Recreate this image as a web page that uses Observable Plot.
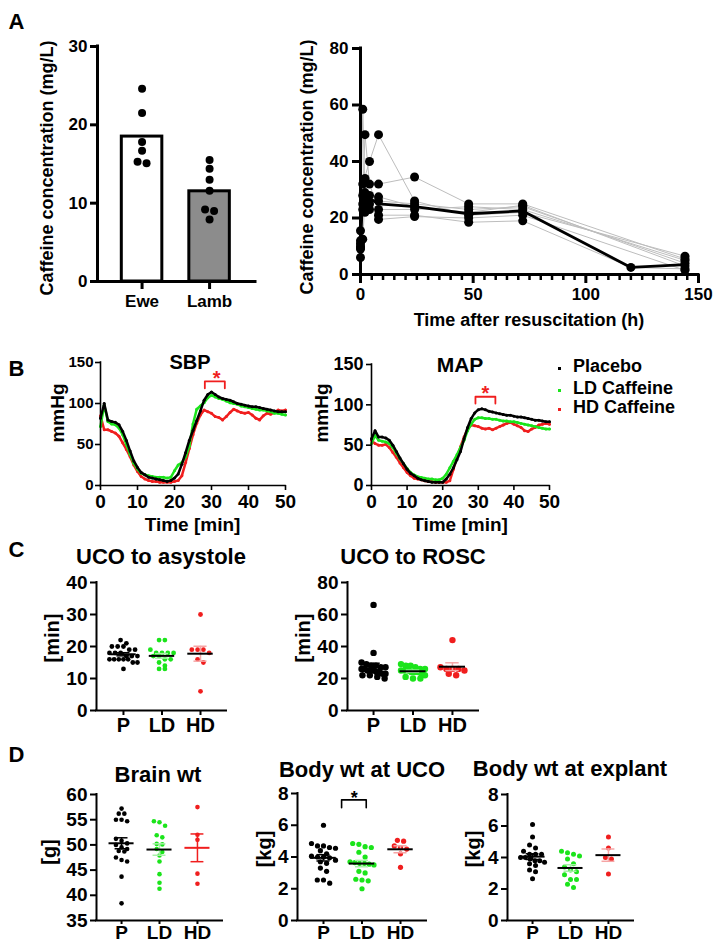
<!DOCTYPE html>
<html><head><meta charset="utf-8">
<script src="https://cdn.jsdelivr.net/npm/d3@7"></script>
<script src="https://cdn.jsdelivr.net/npm/@observablehq/plot@0.6"></script>
<style>
body{margin:0;background:#fff}
#root{position:relative;width:714px;height:943px;overflow:hidden;background:#fff;font-family:"Liberation Sans",Arial,sans-serif;font-weight:bold;color:#000}
.t{position:absolute;white-space:nowrap;line-height:1}
.mk{position:absolute;width:3px;height:3px}
</style></head>
<body><div id="root"></div>
<script>
// ---------- DATA ----------
// Panel A left: caffeine concentration (mg/L)
const aGroups = ["Ewe", "Lamb"];
const ewe = [24.6, 21.5, 17.8, 16.7, 15.1, 15.3];
const lamb = [15.5, 14.4, 13.0, 11.6, 9.2, 9.0, 7.9];
// Panel A right: concentration vs time after resuscitation (h)
const pkTimes = [0, 1, 2, 4, 8, 24, 48, 72, 120, 144];
const pkS1 = [10, 58.5, 29, 28, 26, 25, 23, 24, null, 4];
const pkS2 = [9, null, 49.5, 32, 23, 23, 24, 23, null, 5];
const pkS3 = [12, 32, null, 40, 49.5, 26, 21, 22, null, 6.5];
const pkS4 = [15.5, 28, 34, null, 32, 34.5, 25, 25, null, 5.5];
const pkS5 = [6, 25, 24, 23, 21, 21, 18.5, 19, 2.5, 2];
const pkS6 = [9.5, 23, 22, 25, 19.5, 20.5, 20, 21, null, 1.5];
const pkS7 = [11, 12.5, 27, null, 27.5, 24, 22, 24.5, null, 3];
const pkMean = [10, 29, 28.5, 27, 25, 24, 21.5, 22.5, 2.5, 3.5];
// Panel B: blood pressure (mmHg) each minute 0..50
const sbpP  = [82,100,80,78,77,74,66,55,42,30,22,16,13,10,9,8,7,6,5,6,9,14,26,40,55,67,79,91,104,111,114,111,108,106,105,104,102,100,99,98,97,96,96,95,94,93,92,91,90,90,90];
const sbpLD = [72,98,78,75,74,70,62,50,38,27,20,15,13,12,11,10,10,10,9,10,18,25,28,35,48,75,93,97,101,107,110,108,106,105,103,101,100,99,97,96,95,94,93,92,92,91,90,88,88,87,86];
const sbpHD = [85,68,68,66,64,60,52,44,35,25,17,11,8,6,5,5,4,4,4,4,5,6,12,28,45,62,76,86,92,90,88,84,83,80,84,89,93,91,89,88,89,86,82,80,85,88,87,89,92,91,92];
const mapP  = [58,68,60,60,59,56,50,42,34,27,20,15,12,9,7,6,5,4,4,4,4,8,14,22,32,42,58,72,83,90,94,95,94,92,91,90,89,88,87,87,86,85,85,84,83,82,81,81,80,79,79];
const mapLD = [52,62,56,55,54,52,47,40,33,27,21,16,13,11,10,9,8,8,7,7,9,14,22,30,38,47,56,68,76,82,84,84,83,83,82,82,81,80,80,79,79,78,77,76,75,74,73,72,71,70,70];
const mapHD = [56,52,50,50,51,47,41,35,28,22,16,12,9,8,7,6,5,5,4,4,4,4,6,20,35,48,60,70,75,74,73,71,70,71,69,71,73,75,77,78,76,74,72,68,67,70,72,75,76,77,76];
const sbpSig = {from: 28.2, to: 33.6, top: 127, end: 118.5, x: 31.4};
const mapSig = {from: 29.2, to: 34.8, top: 110, end: 101.5, x: 32};
const seriesNames = ["Placebo", "LD Caffeine", "HD Caffeine"];
// Panel C (min)
const grpNames = ["P", "LD", "HD"];
const asyP  = [22,21,20,20,20,19,19,18,18,18,17,17,17,16,16,16,16,16,15,15,13];
const asyLD = [22,22,19,18,18,18,18,17,17,16,16,15,14,13,13];
const asyHD = [30,19,19,19,18,16,15,6];
const roscP  = [66,36,30,29,28,28,27,27,26,26,25,25,25,24,24,23,23,22,22,21,20];
const roscLD = [29,28,28,27,26,26,25,25,25,24,24,24,23,22,21,20,20];
const roscHD = [44,27,26,26,26,25,23,22];
// Panel D
const brainP  = [57.2,56.2,56.2,55,55,54.7,51.2,50.8,50.3,50,49.5,49.2,48.8,48.7,47.5,47,46.7,43.7,38.4];
const brainLD = [54.7,54.5,53.8,51.9,51.5,50.2,50.1,49.2,48.6,47.9,46.7,44.2,42.5,41.3];
const brainHD = [57.5,52,51,44.3,42.3];
const ucoP  = [6.0,4.85,4.7,4.7,4.6,4.55,4.4,4.2,4.05,4.0,4.0,3.95,3.8,3.7,3.6,3.3,3.1,2.55,2.55,2.35];
const ucoLD = [4.85,4.8,4.65,4.6,4.3,4.0,3.7,3.65,3.6,3.6,3.55,3.5,3.1,3.0,2.6,2.55,2.5,2.0];
const ucoHD = [5.05,5.0,4.7,4.6,4.5,4.2,3.35];
const ucoSig = {from: 1.47, to: 2.11, top: 7.6, end: 7.1, x: 1.8};
const expP  = [6.1,5.3,4.8,4.6,4.4,4.2,4.2,4.2,4.0,4.0,3.9,3.8,3.8,3.7,3.6,3.5,3.2,3.1,2.65];
const expLD = [4.4,4.3,4.2,4.1,3.9,3.6,3.4,3.2,3.1,2.9,2.6,2.6,2.3,2.1];
const expHD = [5.3,4.6,4.0,3.9,2.95];

// ---------- STYLE ----------
const FONT = '"Liberation Sans", Arial, sans-serif';
const GREEN = "#1be41b", RED = "#f01e1e", LGREEN = "#a8f0a8", LRED = "#f6a5a5";
const grpColors = ["#000", GREEN, RED];
const root = document.getElementById("root");

function text(str, cx, cy, size, opt = {}) {
  const d = document.createElement("div");
  d.className = "t"; d.textContent = str;
  d.style.left = cx + "px"; d.style.top = cy + "px"; d.style.fontSize = size + "px";
  if (opt.color) d.style.color = opt.color;
  d.style.transform = (opt.left ? "translate(0,-50%)" : "translate(-50%,-50%)") + (opt.rot ? " rotate(-90deg)" : "");
  root.appendChild(d);
}

function plotAt(f, marks) {
  const m = {l: 70, r: 25, t: 25, b: 50};
  const svg = Plot.plot({
    width: f.x1 - f.x0 + m.l + m.r,
    height: f.y1 - f.y0 + m.t + m.b,
    marginLeft: m.l, marginRight: m.r, marginTop: m.t, marginBottom: m.b,
    style: {background: "transparent", overflow: "visible", fontFamily: FONT, fontWeight: "bold", color: "#000"},
    x: {domain: f.xdom}, y: {domain: f.ydom},
    marks
  });
  svg.style.position = "absolute";
  svg.style.left = (f.x0 - m.l) + "px";
  svg.style.top = (f.y0 - m.t) + "px";
  root.appendChild(svg);
}

function axes(f, a) {
  return [
    Plot.ruleX([f.xdom[0]], {y1: f.ydom[0], y2: f.ydom[1], strokeWidth: a.sw, strokeLinecap: "square"}),
    Plot.ruleY([f.ydom[0]], {x1: f.xdom[0], x2: f.xdom[1], strokeWidth: a.sw, strokeLinecap: "square"}),
    Plot.axisY({ticks: a.yTicks, tickSize: a.yTickSize, tickPadding: a.yPad, strokeWidth: a.sw, fontSize: a.yFont, fontWeight: "bold", label: null}),
    Plot.axisX({ticks: a.xTicks, tickSize: a.xTickSize, tickPadding: a.xPad, strokeWidth: a.sw, fontSize: a.xFont, fontWeight: "bold", label: null, tickFormat: a.xFmt})
  ];
}

// group values into rows of near-equal values and spread them sideways
function swarm(values, r, pxY, maxHalf) {
  const sorted = values.slice().sort((a, b) => b - a);
  const rows = [];
  for (const v of sorted) {
    const row = rows[rows.length - 1];
    if (row && (row[0] - v) * pxY < 2 * r) row.push(v); else rows.push([v]);
  }
  const out = [];
  for (const row of rows) {
    const n = row.length;
    let step = 2 * r + 1;
    if (n > 1 && (n - 1) * step / 2 > maxHalf) step = 2 * maxHalf / (n - 1);
    row.forEach((v, k) => out.push({v, dx: (k - (n - 1) / 2) * step}));
  }
  return out;
}

function groupMarks(f, groups, o) {
  const pxY = (f.y1 - f.y0) / (f.ydom[1] - f.ydom[0]);
  const pxX = (f.x1 - f.x0) / (f.xdom[1] - f.xdom[0]);
  const marks = [];
  const over = [];
  groups.forEach((vals, gi) => {
    const g = gi + 1;
    const pts = swarm(vals, o.r, pxY, o.maxHalf).map(p => ({x: g + p.dx / pxX, y: p.v}));
    marks.push(Plot.dot(pts, {x: "x", y: "y", r: o.r, fill: (o.colors || grpColors)[gi], stroke: null}));
    const mean = d3.mean(vals), sem = d3.deviation(vals) / Math.sqrt(vals.length);
    const st = [{g, mean, lo: mean - sem, hi: mean + sem}];
    const ec = o.errColors[gi], mc = o.meanColors[gi];
    over.push(
      Plot.ruleX(st, {x: "g", y1: "lo", y2: "hi", stroke: ec, strokeWidth: 1.5}),
      Plot.ruleY(st, {y: "lo", x1: d => d.g - 0.17, x2: d => d.g + 0.17, stroke: ec, strokeWidth: 1.5}),
      Plot.ruleY(st, {y: "hi", x1: d => d.g - 0.17, x2: d => d.g + 0.17, stroke: ec, strokeWidth: 1.5}),
      Plot.ruleY(st, {y: "mean", x1: d => d.g - 0.33, x2: d => d.g + 0.33, stroke: mc, strokeWidth: 2})
    );
  });
  return marks.concat(over);
}

const catFmt = d => grpNames[d - 1];
const stdErr = ["#000", LGREEN, LRED];
const stdMean = ["#000", "#000", "#000"];

// ---------- PANEL A left ----------
{
  const f = {x0: 97, x1: 255, y0: 46, y1: 281, xdom: [0.34, 2.68], ydom: [0, 30]};
  const groups = [ewe, lamb];
  const fills = ["#fff", "#8c8c8c"];
  const pxY = (f.y1 - f.y0) / 30, pxX = (f.x1 - f.x0) / (f.xdom[1] - f.xdom[0]);
  const marks = [];
  groups.forEach((vals, gi) => {
    const g = gi + 1;
    marks.push(Plot.rectY([{g, m: d3.mean(vals)}], {x1: d => d.g - 0.3, x2: d => d.g + 0.3, y1: 0, y2: "m", fill: fills[gi], stroke: "#000", strokeWidth: 3}));
  });
  groups.forEach((vals, gi) => {
    const g = gi + 1;
    const pts = swarm(vals, 4, pxY, 12).map(p => ({x: g + p.dx / pxX, y: p.v}));
    marks.push(Plot.dot(pts, {x: "x", y: "y", r: 4, fill: "#000"}));
  });
  plotAt(f, [...marks, ...axes(f, {sw: 3, yTicks: [0, 10, 20, 30], yTickSize: 7, yPad: 3, yFont: 17,
    xTicks: [1, 2], xTickSize: 8, xPad: 5, xFont: 17, xFmt: d => aGroups[d - 1]})]);
}

// ---------- PANEL A right ----------
{
  const f = {x0: 360, x1: 698, y0: 48, y1: 274, xdom: [0, 150], ydom: [0, 80]};
  const indiv = [pkS1, pkS2, pkS3, pkS4, pkS5, pkS6, pkS7].map(s => pkTimes.map((t, i) => ({t, v: s[i]})).filter(d => d.v != null));
  const meanPts = pkTimes.map((t, i) => ({t, v: pkMean[i]}));
  const minor = d3.range(0, 151, 5).filter(t => t % 50 !== 0);
  const marks = [
    ...indiv.map(d => Plot.line(d, {x: "t", y: "v", stroke: "#bdbdbd", strokeWidth: 1})),
    Plot.line(meanPts, {x: "t", y: "v", stroke: "#000", strokeWidth: 2.8}),
    ...indiv.map(d => Plot.dot(d, {x: "t", y: "v", r: 4.5, fill: "#000"})),
    Plot.axisX({ticks: minor, tickSize: 6, strokeWidth: 2.5, tickFormat: () => "", label: null})
  ];
  plotAt(f, [...marks, ...axes(f, {sw: 3, yTicks: [0, 20, 40, 60, 80], yTickSize: 8, yPad: 4, yFont: 17,
    xTicks: [0, 50, 100, 150], xTickSize: 9, xPad: 4, xFont: 17})]);
}

// ---------- PANEL B ----------
function bpMarks(series, sig) {
  const ms = [];
  [2, 1, 0].forEach(i => {
    const d = series[i].map((v, t) => ({t, v}));
    ms.push(Plot.line(d, {x: "t", y: "v", stroke: grpColors[i], strokeWidth: 2.5}));
    ms.push(Plot.dot(d, {x: "t", y: "v", r: 1.5, fill: grpColors[i]}));
  });
  const br = [{x: sig.from, y: sig.end}, {x: sig.from, y: sig.top}, {x: sig.to, y: sig.top}, {x: sig.to, y: sig.end}];
  ms.push(Plot.line(br, {x: "x", y: "y", stroke: RED, strokeWidth: 1.8}));
  ms.push(Plot.text([sig], {x: "x", y: "top", text: () => "*", fill: RED, fontSize: 20, dy: -3}));
  return ms;
}
{
  const f = {x0: 100, x1: 285, y0: 362, y1: 485, xdom: [0, 50], ydom: [0, 150]};
  plotAt(f, [...bpMarks([sbpP, sbpLD, sbpHD], sbpSig), ...axes(f, {sw: 1.6, yTicks: [0, 50, 100, 150], yTickSize: 5, yPad: 2, yFont: 15,
    xTicks: [0, 10, 20, 30, 40, 50], xTickSize: 5, xPad: 4, xFont: 19})]);
}
{
  const f = {x0: 371, x1: 549, y0: 364, y1: 485, xdom: [0, 50], ydom: [0, 150]};
  plotAt(f, [...bpMarks([mapP, mapLD, mapHD], mapSig), ...axes(f, {sw: 1.6, yTicks: [0, 50, 100, 150], yTickSize: 5, yPad: 3, yFont: 18,
    xTicks: [0, 10, 20, 30, 40, 50], xTickSize: 5, xPad: 4, xFont: 19})]);
}

// ---------- PANEL C ----------
{
  const f = {x0: 96, x1: 226, y0: 582, y1: 710, xdom: [0.3, 3.675], ydom: [0, 40]};
  plotAt(f, [...groupMarks(f, [asyP, asyLD, asyHD], {r: 2.4, maxHalf: 14, errColors: stdErr, meanColors: stdMean}),
    ...axes(f, {sw: 2, yTicks: [0, 10, 20, 30, 40], yTickSize: 6, yPad: 3, yFont: 19, xTicks: [1, 2, 3], xTickSize: 5, xPad: 2, xFont: 20, xFmt: catFmt})]);
}
{
  const f = {x0: 347, x1: 478, y0: 582, y1: 710, xdom: [0.34, 3.66], ydom: [0, 80]};
  plotAt(f, [...groupMarks(f, [roscP, roscLD, roscHD], {r: 3.2, maxHalf: 12, errColors: stdErr, meanColors: stdMean}),
    ...axes(f, {sw: 2, yTicks: [0, 20, 40, 60, 80], yTickSize: 6, yPad: 3, yFont: 19, xTicks: [1, 2, 3], xTickSize: 5, xPad: 2, xFont: 20, xFmt: catFmt})]);
}

// ---------- PANEL D ----------
{
  const f = {x0: 96, x1: 222, y0: 794, y1: 920, xdom: [0.34, 3.66], ydom: [35, 60]};
  plotAt(f, [...groupMarks(f, [brainP, brainLD, brainHD], {r: 2.3, maxHalf: 12, errColors: ["#000", LGREEN, RED], meanColors: ["#000", "#000", RED]}),
    ...axes(f, {sw: 2, yTicks: [35, 40, 45, 50, 55, 60], yTickSize: 6, yPad: 3, yFont: 19, xTicks: [1, 2, 3], xTickSize: 4, xPad: 1, xFont: 19, xFmt: catFmt})]);
}
{
  const f = {x0: 297, x1: 426, y0: 793, y1: 920, xdom: [0.325, 3.675], ydom: [0, 8]};
  const br = [{x: ucoSig.from, y: ucoSig.end}, {x: ucoSig.from, y: ucoSig.top}, {x: ucoSig.to, y: ucoSig.top}, {x: ucoSig.to, y: ucoSig.end}];
  plotAt(f, [...groupMarks(f, [ucoP, ucoLD, ucoHD], {r: 2.6, maxHalf: 12, errColors: stdErr, meanColors: stdMean}),
    Plot.line(br, {x: "x", y: "y", stroke: "#000", strokeWidth: 1.6}),
    Plot.text([ucoSig], {x: "x", y: "top", text: () => "*", fontSize: 18, dy: -2}),
    ...axes(f, {sw: 2, yTicks: [0, 2, 4, 6, 8], yTickSize: 6, yPad: 3, yFont: 19, xTicks: [1, 2, 3], xTickSize: 4, xPad: 1, xFont: 19, xFmt: catFmt})]);
}
{
  const f = {x0: 507, x1: 633, y0: 794, y1: 920, xdom: [0.34, 3.66], ydom: [0, 8]};
  plotAt(f, [...groupMarks(f, [expP, expLD, expHD], {r: 2.5, maxHalf: 12, errColors: stdErr, meanColors: stdMean}),
    ...axes(f, {sw: 2, yTicks: [0, 2, 4, 6, 8], yTickSize: 6, yPad: 3, yFont: 19, xTicks: [1, 2, 3], xTickSize: 4, xPad: 1, xFont: 19, xFmt: catFmt})]);
}

// ---------- TEXT ----------
text("A", 16.5, 21.5, 22); text("B", 16.5, 369, 22); text("C", 16.5, 550, 22); text("D", 16.5, 754.5, 22);
text("Caffeine concentration (mg/L)", 47, 168, 18, {rot: true});
text("Caffeine concentration (mg/L)", 307, 167, 18, {rot: true});
text("Time after resuscitation (h)", 529, 320, 18);
text("SBP", 190, 362, 20); text("MAP", 460, 364, 21);
text("mmHg", 57, 413, 19, {rot: true}); text("mmHg", 321, 413, 19, {rot: true});
text("Time [min]", 192.5, 524, 19); text("Time [min]", 460, 524, 19);
const legY = [366, 388, 407];
seriesNames.forEach((s, i) => {
  text(s, 573, legY[i], 18, {left: true});
  const m = document.createElement("div");
  m.className = "mk"; m.style.left = "558px"; m.style.top = (legY[i] + 0.5) + "px"; m.style.background = grpColors[i];
  root.appendChild(m);
});
text("UCO to asystole", 161, 556.5, 22); text("UCO to ROSC", 413, 556.5, 22);
text("[min]", 52, 638, 20, {rot: true}); text("[min]", 303, 638, 20, {rot: true});
text("Brain wt", 158, 774.5, 22); text("Body wt at UCO", 362, 770, 22); text("Body wt at explant", 570, 768.5, 22);
text("[g]", 49, 852, 20, {rot: true}); text("[kg]", 264, 849, 20, {rot: true}); text("[kg]", 473, 849, 20, {rot: true});
</script>
</body></html>
